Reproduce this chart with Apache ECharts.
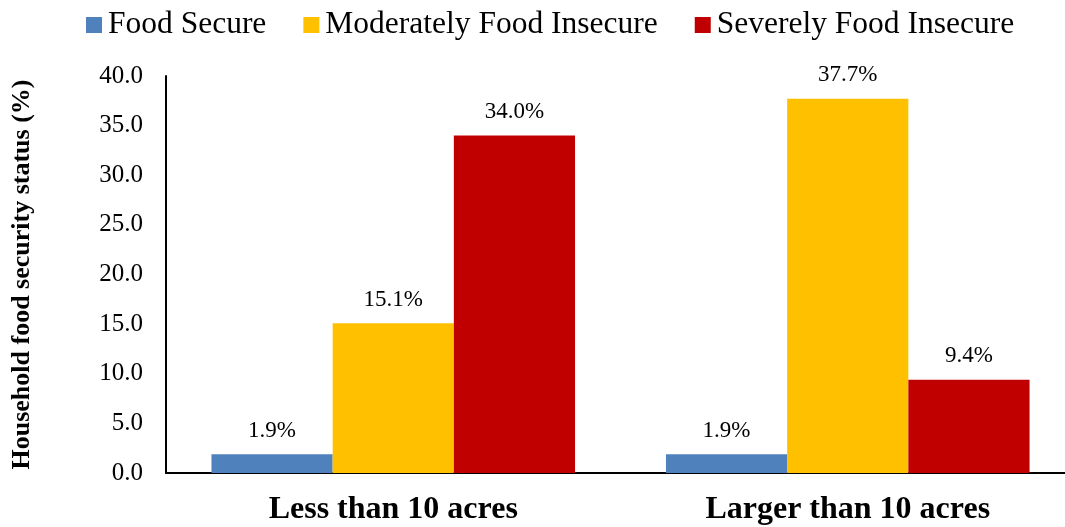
<!DOCTYPE html>
<html>
<head>
<meta charset="utf-8">
<script src="https://cdn.jsdelivr.net/npm/echarts@6/dist/echarts.min.js"></script>
<style>
  html, body { margin: 0; padding: 0; background: #fff; }
  #chart { width: 1065px; height: 527px; }
</style>
</head>
<body>
<div id="chart"></div>
<script>
// Farm size groups and the share of households in each food security status
const categories = ['Less than 10 acres', 'Larger than 10 acres'];
const foodSecure = [1.9, 1.9];
const moderatelyInsecure = [15.1, 37.7];
const severelyInsecure = [34.0, 9.4];
const seriesNames = ['Food Secure', 'Moderately Food Insecure', 'Severely Food Insecure'];
const seriesColors = ['#4F81BD', '#FFC000', '#C00000'];

const FONT = '"Liberation Serif", "Times New Roman", serif';

function barSeries(name, data, color) {
  return {
    name: name,
    type: 'bar',
    data: data,
    barGap: '0%',
    barCategoryGap: '20%',
    itemStyle: { color: color },
    label: {
      show: true,
      position: 'top',
      distance: 12,
      fontFamily: FONT,
      fontSize: 23,
      color: '#000',
      formatter: p => p.value.toFixed(1) + '%'
    }
  };
}

const chart = echarts.init(document.getElementById('chart'));
chart.setOption({
  animation: false,
  textStyle: { fontFamily: FONT },
  legend: {
    top: 4,
    left: 81,
    itemWidth: 16,
    itemHeight: 16,
    itemGap: 37,
    icon: 'rect',
    textStyle: { fontFamily: FONT, fontSize: 31.5, color: '#000', padding: [0, 0, 0, 1] },
    data: seriesNames
  },
  grid: {
    left: 166, right: -10, top: 76, bottom: 54,
    containLabel: false,
    outerBoundsMode: 'none'
  },
  xAxis: {
    type: 'category',
    data: categories,
    axisLine: { lineStyle: { color: '#000', width: 2 } },
    axisTick: { show: false },
    axisLabel: { fontFamily: FONT, fontSize: 32, fontWeight: 'bold', color: '#000', margin: 21 }
  },
  yAxis: {
    type: 'value',
    min: 0,
    max: 40,
    interval: 5,
    name: 'Household food security status (%)',
    nameLocation: 'middle',
    nameGap: 131,
    nameTextStyle: { fontFamily: FONT, fontSize: 26, fontWeight: 'bold', color: '#000' },
    axisLine: { show: true, lineStyle: { color: '#000', width: 2 } },
    axisTick: { show: false },
    splitLine: { show: false },
    axisLabel: {
      fontFamily: FONT, fontSize: 25, color: '#000', margin: 23,
      formatter: v => v.toFixed(1)
    }
  },
  series: [
    barSeries(seriesNames[0], foodSecure, seriesColors[0]),
    barSeries(seriesNames[1], moderatelyInsecure, seriesColors[1]),
    barSeries(seriesNames[2], severelyInsecure, seriesColors[2])
  ]
});
</script>
</body>
</html>
